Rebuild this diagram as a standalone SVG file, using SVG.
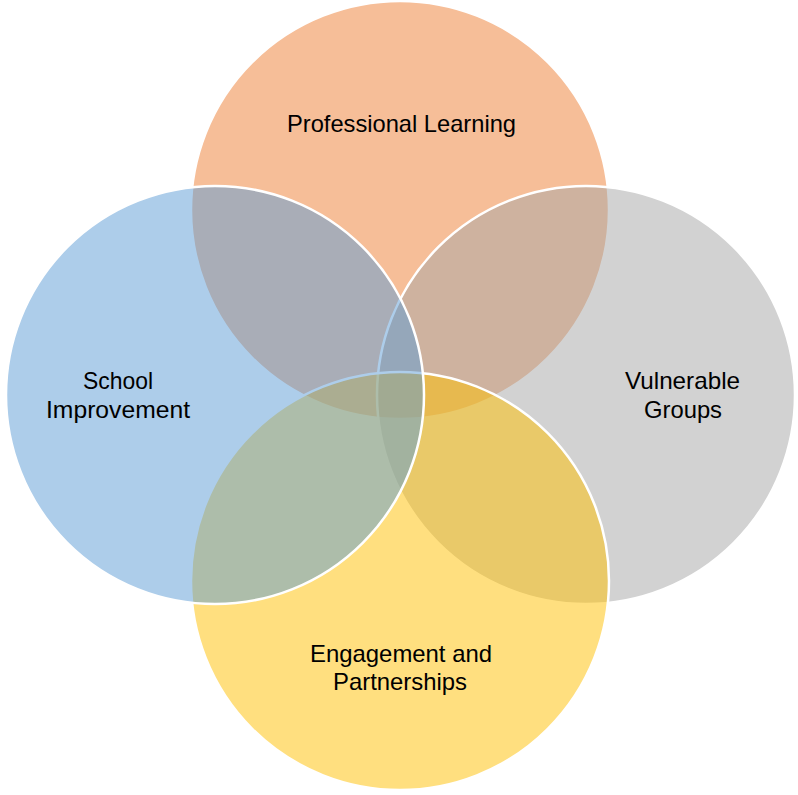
<svg xmlns="http://www.w3.org/2000/svg" width="798" height="795" viewBox="0 0 798 795">
<style>
.c{stroke:#fff;stroke-width:2.5}
.t{font-family:"Liberation Sans",Arial,sans-serif;font-size:24px;fill:#000;text-anchor:middle}
</style>
<rect width="798" height="795" fill="#fff"/>
<g id="professional-learning"><circle class="c" cx="400" cy="210" r="209" fill="#ED7D31" fill-opacity="0.5"/></g>
<g id="vulnerable-groups"><circle class="c" cx="586" cy="395" r="209" fill="#A5A5A5" fill-opacity="0.5"/></g>
<g id="engagement"><circle class="c" cx="400" cy="581" r="209" fill="#FFC000" fill-opacity="0.5"/></g>
<g id="school-improvement"><circle class="c" cx="215" cy="395" r="209" fill="#5B9BD5" fill-opacity="0.5"/></g>
<g id="labels">
<text class="t" x="401.5" y="132" textLength="229" lengthAdjust="spacingAndGlyphs">Professional Learning</text>
<text class="t" x="118" y="389" textLength="70" lengthAdjust="spacingAndGlyphs">School</text>
<text class="t" x="118" y="418" textLength="144" lengthAdjust="spacingAndGlyphs">Improvement</text>
<text class="t" x="682.5" y="389" textLength="115" lengthAdjust="spacingAndGlyphs">Vulnerable</text>
<text class="t" x="683" y="418" textLength="78" lengthAdjust="spacingAndGlyphs">Groups</text>
<text class="t" x="401" y="662" textLength="182" lengthAdjust="spacingAndGlyphs">Engagement and</text>
<text class="t" x="400" y="690" textLength="134" lengthAdjust="spacingAndGlyphs">Partnerships</text>
</g>
<g id="connectors"/>
</svg>
